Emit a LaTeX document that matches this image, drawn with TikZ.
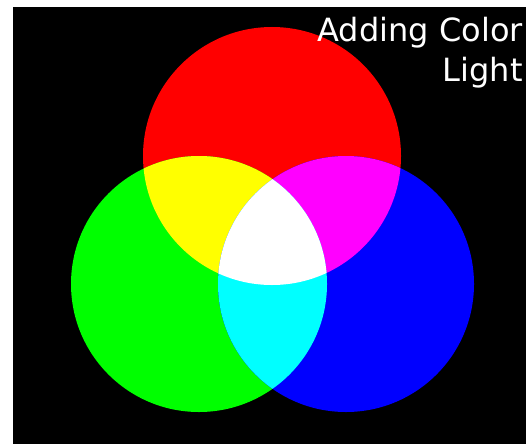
\documentclass[tikz,border=0pt]{standalone}
\usepackage{fontspec}
\setmainfont{DejaVu Sans}
\usetikzlibrary{positioning}
\definecolor{lightred}{rgb}{1,0,0}
\definecolor{lightgreen}{rgb}{0,1,0}
\definecolor{lightblue}{rgb}{0,0,1}
\definecolor{lightyellow}{rgb}{1,1,0}
\definecolor{lightmagenta}{rgb}{1,0,1}
\definecolor{lightcyan}{rgb}{0,1,1}
\tikzset{
  title/.style={text=white, font=\fontsize{32}{40}\selectfont, align=right, inner sep=0pt, anchor=north east},
}
\begin{document}
\begin{tikzpicture}[x=1pt,y=-1pt]
              \useasboundingbox (0,0) rectangle (526,444);
              % Black background
              \fill[black] (13,7) rectangle (526,444);
              \coordinate (R) at (272,156);
              \coordinate (G) at (199,284);
              \coordinate (B) at (346,284);
              % The three primary lights
              \fill[lightred] (R) circle (129);
              \fill[lightgreen] (G) circle (128);
              \fill[lightblue] (B) circle (128);
              % Pairwise overlaps
              \begin{scope}
                \clip (R) circle (129);
                \fill[lightyellow] (G) circle (128);
                \fill[lightmagenta] (B) circle (128);
              \end{scope}
              \begin{scope}
                \clip (G) circle (128);
                \fill[lightcyan] (B) circle (128);
                % All three give white
                \clip (B) circle (128);
                \fill[white] (R) circle (129);
              \end{scope}
              % Label
              \node[title] (label) at (523,17) {Adding Color\\Light};
            \end{tikzpicture}
\end{document}
